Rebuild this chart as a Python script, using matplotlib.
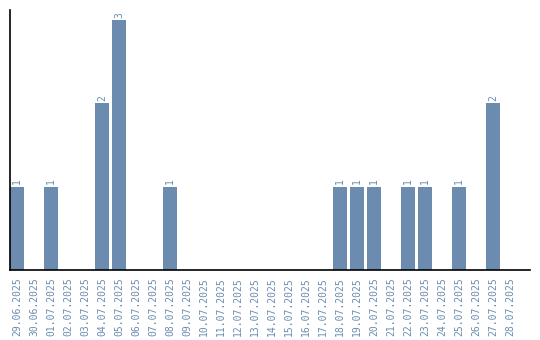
import matplotlib
matplotlib.use("Agg")
import matplotlib.pyplot as plt
import numpy as np

# daily counts, 29.06.2025 - 28.07.2025
dates = ['29.06.2025', '30.06.2025', '01.07.2025', '02.07.2025', '03.07.2025',
         '04.07.2025', '05.07.2025', '06.07.2025', '07.07.2025', '08.07.2025',
         '09.07.2025', '10.07.2025', '11.07.2025', '12.07.2025', '13.07.2025',
         '14.07.2025', '15.07.2025', '16.07.2025', '17.07.2025', '18.07.2025',
         '19.07.2025', '20.07.2025', '21.07.2025', '22.07.2025', '23.07.2025',
         '24.07.2025', '25.07.2025', '26.07.2025', '27.07.2025', '28.07.2025']
counts = [1, 0, 1, 0, 0, 2, 3, 0, 0, 1,
          0, 0, 0, 0, 0, 0, 0, 0, 0, 1,
          1, 1, 0, 1, 1, 0, 1, 0, 2, 0]

color = '#6b8cae'
bw = 14 / 17

fig = plt.figure(figsize=(5.4, 3.4), dpi=100)
ax = fig.add_axes([10 / 540, 70 / 340, 520 / 540, 260 / 340])

x = np.arange(len(dates))
bars = ax.bar(x, counts, width=bw, align='edge', color=color)

for xi, c in zip(x, counts):
    if c > 0:
        ax.text(xi + bw / 2, c + 0.03, str(c), rotation=90, ha='center', va='bottom',
                fontsize=7, family='DejaVu Sans Mono', color=color)

ax.set_xlim(0, 520 / 17)
ax.set_ylim(0, 260 / 83.3)
ax.set_xticks(x + bw / 2)
ax.set_xticklabels(dates, rotation=90, fontsize=7, family='DejaVu Sans Mono', color=color)
ax.tick_params(axis='x', length=0, pad=5)
ax.set_yticks([])
for s in ['top', 'right']:
    ax.spines[s].set_visible(False)
ax.spines['left'].set_linewidth(1.2)
ax.spines['bottom'].set_linewidth(1.2)

plt.savefig('out.png', dpi=100)
